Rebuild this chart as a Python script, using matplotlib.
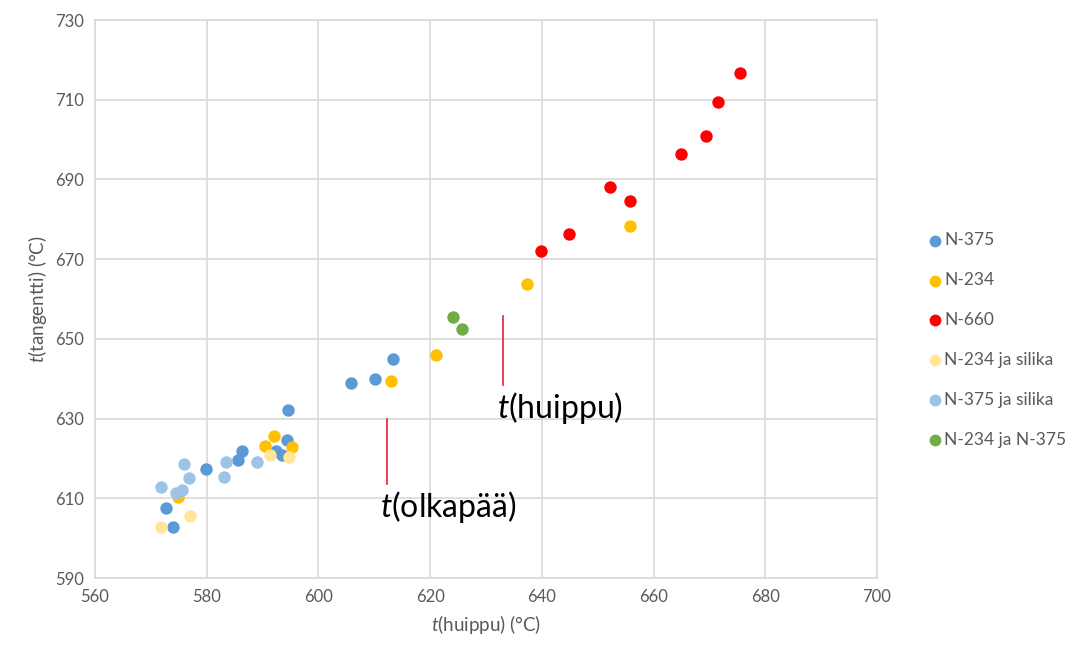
import matplotlib
matplotlib.use("Agg")
import matplotlib.pyplot as plt

plt.rcParams["font.family"] = ["Lato", "DejaVu Sans"]
plt.rcParams["mathtext.fontset"] = "custom"
plt.rcParams["mathtext.rm"] = "Lato"
plt.rcParams["mathtext.it"] = "Lato:italic"

# series: (t(huippu), t(tangentti))
n375_x = [613.4, 610.1, 605.8, 594.6, 594.4, 586.3, 585.6, 579.9, 572.7, 574.0, 592.4, 593.5]
n375_y = [645.0, 639.9, 638.9, 632.2, 624.6, 621.9, 619.6, 617.4, 607.6, 602.8, 621.9, 620.9]

n234_x = [655.8, 637.4, 621.1, 613.0, 592.1, 590.5, 595.3, 574.9]
n234_y = [678.3, 663.8, 645.9, 639.4, 625.6, 623.1, 622.9, 610.3]

n660_x = [675.5, 671.5, 669.4, 664.9, 652.2, 655.8, 644.9, 639.9]
n660_y = [716.7, 709.4, 700.9, 696.4, 688.1, 684.6, 676.3, 672.0]

n234_si_x = [591.3, 594.7, 577.0, 571.8]
n234_si_y = [620.9, 620.4, 605.6, 602.8]

n375_si_x = [575.9, 576.8, 571.8, 574.5, 575.6, 583.5, 583.1, 589.0]
n375_si_y = [618.6, 615.1, 612.8, 611.3, 612.1, 619.1, 615.4, 619.1]

mix_x = [624.1, 625.7]
mix_y = [655.5, 652.5]

series = [
    ("N-375", n375_x, n375_y, "#5B9BD5"),
    ("N-234", n234_x, n234_y, "#FFC000"),
    ("N-660", n660_x, n660_y, "#FF0000"),
    ("N-234 ja silika", n234_si_x, n234_si_y, "#FFE699"),
    ("N-375 ja silika", n375_si_x, n375_si_y, "#9DC3E6"),
    ("N-234 ja N-375", mix_x, mix_y, "#70AD47"),
]

fig = plt.figure(figsize=(10.82, 6.54), dpi=100)
ax = fig.add_axes([0.0878, 0.1162, 0.7227, 0.8532])

for label, xs, ys, color in series:
    ax.scatter(xs, ys, s=80, color=color, label=label, zorder=3, linewidths=0)

ax.set_xlim(560, 700)
ax.set_ylim(590, 730)
ax.set_xticks(range(560, 701, 20))
ax.set_yticks(range(590, 731, 20))
ax.grid(True, color="#D9D9D9", linewidth=1.2, zorder=0)
for sp in ax.spines.values():
    sp.set_color("#D9D9D9")
    sp.set_linewidth(1.2)
ax.tick_params(length=0, labelsize=12, labelcolor="#595959", pad=8)

ax.set_xlabel(r"$\it{t}$(huippu) (°C)", fontsize=13.5, color="#595959", labelpad=6)
ax.set_ylabel(r"$\it{t}$(tangentti) (°C)", fontsize=13.5, color="#595959", labelpad=4)

# annotations
ax.plot([612.3, 612.3], [613.6, 629.9], color="#E8202A", linewidth=1.2, zorder=2)
ax.plot([633.1, 633.1], [638.4, 655.7], color="#E8202A", linewidth=1.2, zorder=2)
ax.text(611.0, 605.3, r"$\it{t}$(olkapää)", fontsize=23, color="#000000", ha="left", va="baseline")
ax.text(632.0, 630.1, r"$\it{t}$(huippu)", fontsize=23, color="#000000", ha="left", va="baseline")

leg = fig.legend(loc="upper left", bbox_to_anchor=(0.842, 0.669), frameon=False,
                 fontsize=12.5, labelspacing=1.38, handletextpad=0.0,
                 handlelength=1.0, markerscale=0.95)
for t in leg.get_texts():
    t.set_color("#595959")

fig.savefig("out.png", dpi=100)
